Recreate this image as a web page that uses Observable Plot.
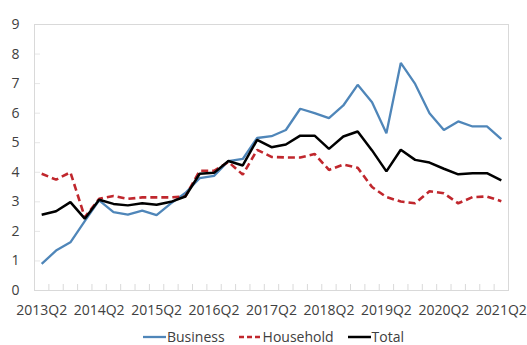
<!DOCTYPE html>
<html>
<head>
<meta charset="utf-8">
<script src="https://cdn.jsdelivr.net/npm/d3@7"></script>
<script src="https://cdn.jsdelivr.net/npm/@observablehq/plot@0.6"></script>
<style>
  html, body { margin: 0; padding: 0; background: #fff; }
  body { width: 527px; height: 345px; overflow: hidden; font-family: "Open Sans", sans-serif; }
  #legend { display: flex; justify-content: center; align-items: center; height: 17px;
            margin-left: 20px; font-size: 14px; color: #404040; }
  #legend .item { display: flex; align-items: center; margin: 0 7px; }
  #legend svg { display: block; margin-right: 1px; }
</style>
</head>
<body>
<div id="chart"></div>
<div id="legend"></div>
<script>
// Quarterly categories, 2013Q2 to 2021Q2
const categories = [
  "2013Q2","2013Q3","2013Q4","2014Q1","2014Q2","2014Q3","2014Q4","2015Q1",
  "2015Q2","2015Q3","2015Q4","2016Q1","2016Q2","2016Q3","2016Q4","2017Q1",
  "2017Q2","2017Q3","2017Q4","2018Q1","2018Q2","2018Q3","2018Q4","2019Q1",
  "2019Q2","2019Q3","2019Q4","2020Q1","2020Q2","2020Q3","2020Q4","2021Q1",
  "2021Q2"
];

const business = [0.9,1.35,1.63,2.35,3.05,2.65,2.57,2.7,2.55,2.95,3.3,3.8,3.88,4.38,4.45,5.16,
  5.22,5.43,6.15,6.0,5.83,6.26,6.96,6.37,5.32,7.7,6.99,6.0,5.43,5.72,5.55,5.55,5.12];

const household = [3.95,3.75,4.0,2.48,3.1,3.2,3.1,3.15,3.15,3.15,3.18,4.05,4.05,4.35,3.92,4.76,
  4.52,4.5,4.5,4.62,4.08,4.26,4.15,3.5,3.16,3.01,2.95,3.36,3.29,2.95,3.16,3.18,3.02];

const total = [2.56,2.68,2.99,2.43,3.07,2.93,2.88,2.95,2.9,3.0,3.18,3.95,3.98,4.38,4.23,5.1,
  4.85,4.94,5.24,5.24,4.79,5.21,5.38,4.74,4.03,4.76,4.42,4.33,4.12,3.93,3.97,3.97,3.73];

// Labelled quarters (every fourth) and the value-axis ticks
const xTickLabels = ["2013Q2","2014Q2","2015Q2","2016Q2","2017Q2","2018Q2","2019Q2","2020Q2","2021Q2"];
const yTicks = [0,1,2,3,4,5,6,7,8,9];

const series = [
  {name: "Business",  values: business,  color: "#4f86b9", dash: null,  width: 2.3},
  {name: "Household", values: household, color: "#c0272d", dash: "7,4", width: 2.6},
  {name: "Total",     values: total,     color: "#000000", dash: null,  width: 2.5}
];

const rows = series.map(s => s.values.map((v, i) => ({i, v, name: s.name})));
const xTickIdx = xTickLabels.map(l => categories.indexOf(l));
// category boundaries for the small axis tick marks
const boundaries = d3.range(categories.length + 1).map(i => i - 0.5);

const W = 527, H = 328, mL = 34, mR = 19, mT = 24, mB = 38;
const innerW = W - mL - mR, innerH = H - mT - mB;

const chart = Plot.plot({
  width: W, height: H,
  marginLeft: mL, marginRight: mR, marginTop: mT, marginBottom: mB,
  style: {fontFamily: "Open Sans, sans-serif", fontSize: "14px", color: "#404040", background: "#fff"},
  x: {type: "linear", domain: [-0.5, categories.length - 0.5], ticks: xTickIdx,
      tickFormat: i => categories[i], tickSize: 0, tickPadding: 15, label: null},
  y: {domain: [0, 9], ticks: yTicks, tickFormat: d => String(d), tickSize: 0, tickPadding: 15, label: null},
  marks: [
    Plot.tickX(boundaries, {x: d => d, stroke: "#d9d9d9", insetTop: innerH - 6}),
    Plot.tickY(yTicks, {y: d => d, stroke: "#e6e6e6", insetRight: innerW - 6}),
    Plot.frame({stroke: "#d9d9d9"}),
    ...series.map((s, k) => Plot.line(rows[k], {
      x: "i", y: "v", stroke: s.color, strokeWidth: s.width,
      strokeDasharray: s.dash, strokeLinejoin: "miter", strokeLinecap: "butt"
    }))
  ]
});
document.getElementById("chart").appendChild(chart);

// Legend with line samples
const legend = d3.select("#legend");
series.forEach(s => {
  const item = legend.append("div").attr("class", "item");
  const svg = item.append("svg").attr("width", 23).attr("height", 10);
  svg.append("line").attr("x1", 0).attr("x2", 23).attr("y1", 5).attr("y2", 5)
    .attr("stroke", s.color).attr("stroke-width", s.width)
    .attr("stroke-dasharray", s.dash ? "5,3" : null);
  item.append("span").text(s.name);
});
</script>
</body>
</html>
